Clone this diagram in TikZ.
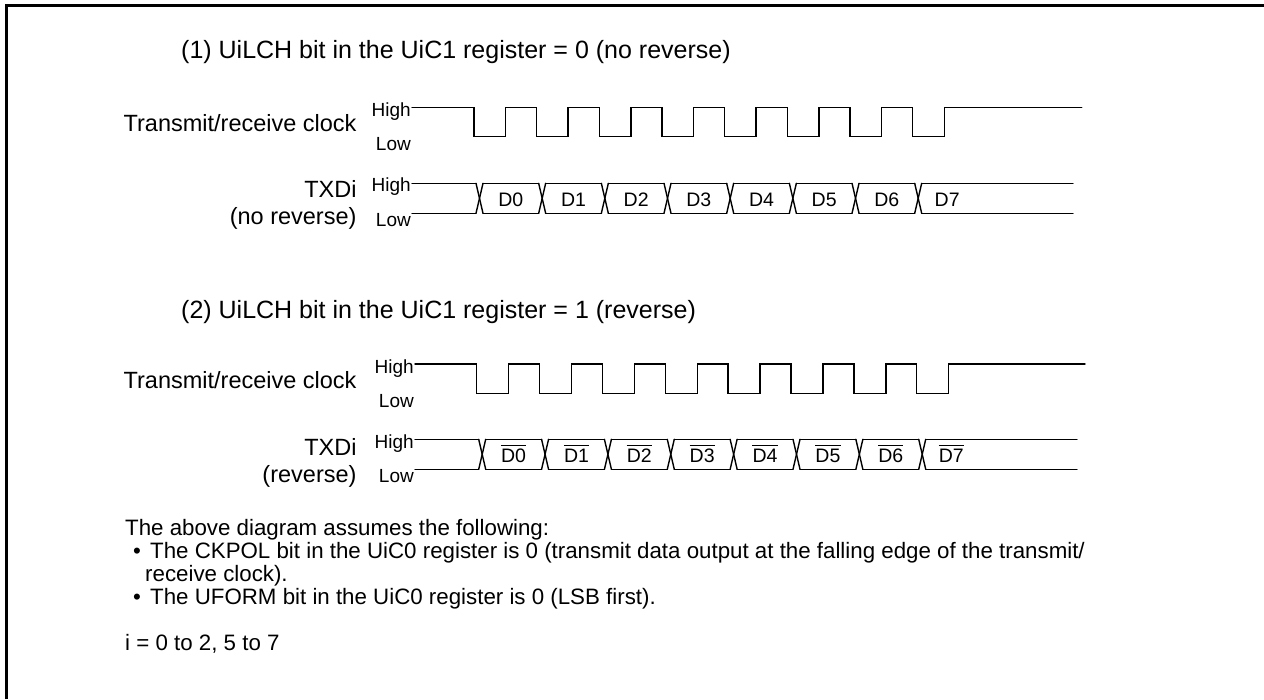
\documentclass[tikz,border=0pt]{standalone}
\usepackage{fontspec}
\setmainfont{Liberation Sans}
\newcommand\clocksig[7]{% x0, first fall, period, low width, xend, yhigh, ylow
  \draw[sig] (#1,#6) \foreach \k in {0,...,7}{ -- ({#2+#3*\k},#6) -- ({#2+#3*\k},#7) -- ({#2+#3*\k+#4},#7) -- ({#2+#3*\k+#4},#6)} -- (#5,#6);}
\newcommand\bussig[6]{% x0, first crossing, period, xend, yhigh, ylow
  \draw[sig] (#1,#5) -- ({#2-3.5},#5);
  \draw[sig] (#1,#6) -- ({#2-3.5},#6);
  \foreach \k in {0,...,7}{
    \draw[sig] ({#2+#3*\k-3.5},#5) -- ({#2+#3*\k+3.5},#6);
    \draw[sig] ({#2+#3*\k-3.5},#6) -- ({#2+#3*\k+3.5},#5);}
  \foreach \k in {0,...,6}{
    \draw[sig] ({#2+#3*\k+3.5},#5) -- ({#2+#3*(\k+1)-3.5},#5);
    \draw[sig] ({#2+#3*\k+3.5},#6) -- ({#2+#3*(\k+1)-3.5},#6);}
  \draw[sig] ({#2+#3*7+3.5},#5) -- (#4,#5);
  \draw[sig] ({#2+#3*7+3.5},#6) -- (#4,#6);}
\begin{document}
\begin{tikzpicture}[x=1pt,y=-1pt,
  sig/.style={line width=1.4pt, line cap=round, line join=miter},
  lab/.style={inner sep=0pt, font=\fontsize{23.5}{28}\selectfont},
  note/.style={inner sep=0pt, font=\fontsize{22.3}{27}\selectfont, anchor=base west},
  ttl/.style={inner sep=0pt, font=\fontsize{25}{28}\selectfont, anchor=base west},
  hl/.style={inner sep=0pt, font=\fontsize{19}{22}\selectfont, anchor=base east},
  dat/.style={inner sep=0pt, font=\fontsize{19.5}{22}\selectfont, anchor=base}]
\useasboundingbox (0,0) rectangle (1264,699);
\draw[line width=3pt] (6,699) -- (6,5.5) -- (1264,5.5);

% ---------- Section 1 ----------
\node[ttl] (t1) at (181,58) {(1) UiLCH bit in the UiC1 register = 0 (no reverse)};
\node[lab,anchor=base east] (c1lab) at (356.7,131) {Transmit/receive clock};
\node[hl] (c1h) at (411,116.2) {High};
\node[hl] (c1l) at (411,150.2) {Low};
\clocksig{412}{474}{62.67}{31.5}{1081.7}{107.7}{136.7}
\node[lab,anchor=base east] (x1lab) at (356.7,197.5) {TXDi};
\node[lab,anchor=base east] (x1lab2) at (356.7,224) {(no reverse)};
\node[hl] (x1h) at (411,191.8) {High};
\node[hl] (x1l) at (411,226) {Low};
\bussig{412}{479.5}{62.67}{1073}{183.3}{213.3}
\foreach \k in {0,...,6}{
  \node[dat] (d1\k) at ({479.5+62.67*\k+31.3},206.5) {D\k};}
\node[dat] (d17) at ({479.5+62.67*7+29},206.5) {D7};

% ---------- Section 2 ----------
\node[ttl] (t2) at (181,318) {(2) UiLCH bit in the UiC1 register = 1 (reverse)};
\node[lab,anchor=base east] (c2lab) at (356.7,388) {Transmit/receive clock};
\node[hl] (c2h) at (414,373) {High};
\node[hl] (c2l) at (414,407.5) {Low};
\clocksig{415}{476.7}{62.86}{32}{1085}{364}{393.3}
\node[lab,anchor=base east] (x2lab) at (356.7,455) {TXDi};
\node[lab,anchor=base east] (x2lab2) at (356.7,482) {(reverse)};
\node[hl] (x2h) at (414,448) {High};
\node[hl] (x2l) at (414,482.5) {Low};
\bussig{415}{482.2}{62.86}{1077}{439.3}{469.3}
\foreach \k in {0,...,6}{
  \node[dat] (d2\k) at ({482.2+62.86*\k+31.4},462.5) {D\k};
  \draw[line width=1.2pt] ([yshift=3.5pt]d2\k.north west) -- ([yshift=3.5pt]d2\k.north east);}
\node[dat] (d27) at ({482.2+62.86*7+29},462.5) {D7};
\draw[line width=1.2pt] ([yshift=3.5pt]d27.north west) -- ([yshift=3.5pt]d27.north east);

% ---------- Notes ----------
\node[note] (n0) at (125,535) {The above diagram assumes the following:};
\node[note] (n1b) at (133,558) {\textbullet};
\node[note] (n1) at (150,558) {The CKPOL bit in the UiC0 register is 0 (transmit data output at the falling edge of the transmit/};
\node[note] (n2) at (145,581) {receive clock).};
\node[note] (n3b) at (133,604) {\textbullet};
\node[note] (n3) at (150,604) {The UFORM bit in the UiC0 register is 0 (LSB first).};
\node[note] (n4) at (125,650) {i = 0 to 2, 5 to 7};
\end{tikzpicture}
\end{document}
